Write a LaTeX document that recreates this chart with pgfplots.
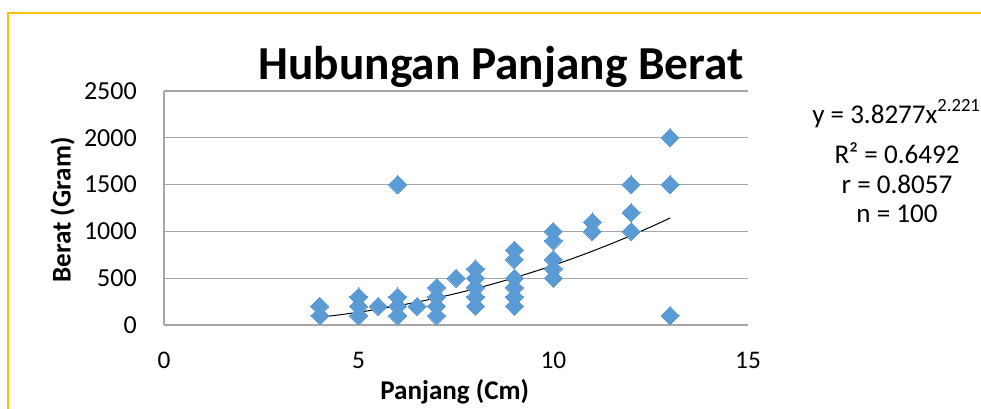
\documentclass[border=0pt]{standalone}
\usepackage{pgfplots}
\pgfplotsset{compat=1.18}
\usepackage{fontspec}
\setmainfont{Carlito}
\definecolor{mk}{HTML}{5B9BD5}
\definecolor{gridc}{HTML}{A6A6A6}
\definecolor{gold}{HTML}{FFC000}
\begin{document}
\begin{tikzpicture}[x=1pt,y=1pt]
\begin{axis}[
  at={(123pt,62.25pt)}, anchor=south west,
  scale only axis, width=438pt, height=175.5pt,
  xmin=0, xmax=15, ymin=0, ymax=2500,
  xtick={0,5,10,15}, ytick={0,500,1000,1500,2000,2500},
  axis x line*=bottom, axis y line*=left,
  axis line style={-, draw=gridc, line width=1pt},
  ymajorgrids, major grid style={draw=gridc, line width=1pt},
  major tick length=0pt,
  /pgf/number format/assume math mode=true,
  /pgf/number format/1000 sep={},
  yticklabel style={anchor=east, inner sep=0pt, xshift=-20.25pt, font=\fontsize{19.5}{22}\selectfont},
  xticklabel style={anchor=base, inner sep=0pt, yshift=-32.25pt, font=\fontsize{19}{21}\selectfont},
]
\addplot[color=mk, only marks, mark=square*, mark size=4.8pt, mark options={rotate=45, fill=mk, draw=mk, line width=0pt}] table {
x y
4 200
4 100
5 300
5 200
5 100
5.5 200
6 1500
6 300
6 200
6 100
6.5 200
7 400
7 300
7 200
7 100
7.5 500
8 600
8 500
8 400
8 300
8 200
9 800
9 700
9 500
9 400
9 300
9 200
10 1000
10 900
10 700
10 600
10 500
11 1100
11 1000
12 1500
12 1200
12 1000
13 2000
13 1500
13 100
};
\addplot[black, line width=0.75pt, smooth, no marks] table {
x y
4 83.30
4.5 108.22
5 136.77
5.5 169.02
6 205.08
6.5 244.99
7 288.84
7.5 336.70
8 388.61
8.5 444.64
9 504.86
9.5 569.30
10 638.0
10.5 711.07
11 788.5
11.5 870.37
12 956.7
12.5 1047.52
13 1142.9
};
\end{axis}
\draw[gold, line width=1.5pt] (6.2,-10) -- (6.2,296.25) -- (760,296.25);
\node[anchor=base, inner sep=0pt, font=\bfseries\fontsize{35.5}{40}\selectfont] at (375.75,246.75) {Hubungan Panjang Berat};
\node[anchor=base, inner sep=0pt, font=\bfseries\fontsize{20.3}{24}\selectfont] at (341,6.75) {Panjang (Cm)};
\node[rotate=90, inner sep=0pt, font=\bfseries\fontsize{20.3}{24}\selectfont] at (47,148.5) {Berat (Gram)};
\node[anchor=base west, inner sep=0pt, font=\fontsize{20.3}{24}\selectfont] at (609,213.5) {y = 3.8277x\raisebox{0.45em}{\fontsize{14}{16}\selectfont 2.2219}};
\node[anchor=base, inner sep=0pt, font=\fontsize{20.3}{24}\selectfont] at (672.75,183.75) {R² = 0.6492};
\node[anchor=base, inner sep=0pt, font=\fontsize{20.3}{24}\selectfont] at (672.75,161) {r = 0.8057};
\node[anchor=base, inner sep=0pt, font=\fontsize{20.3}{24}\selectfont] at (672.75,139.5) {n = 100};
\pgfresetboundingbox
\useasboundingbox (0,0) rectangle (735.75,306);
\end{tikzpicture}
\end{document}
